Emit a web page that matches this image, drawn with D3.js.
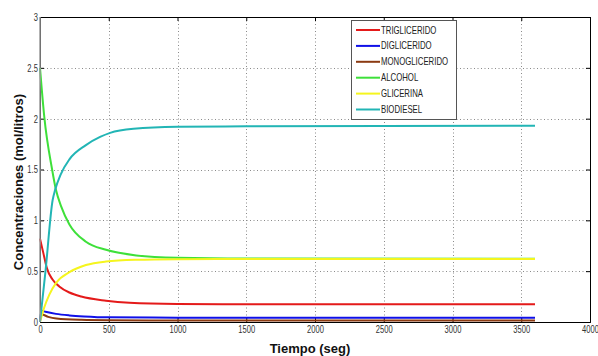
<!DOCTYPE html>
<html>
<head>
<meta charset="utf-8">
<script src="https://cdn.jsdelivr.net/npm/d3@7"></script>
<style>
html,body{margin:0;padding:0;background:#fff;}
svg{display:block;}
</style>
</head>
<body>
<svg id="chart" width="598" height="356"></svg>
<script>
// ---- data ----
const xTicks = [0, 500, 1000, 1500, 2000, 2500, 3000, 3500, 4000];
const yTicks = [0, 0.5, 1, 1.5, 2, 2.5, 3];
const yTickLabels = ["0", "0.5", "1", "1.5", "2", "2.5", "3"];
const seriesNames = ["TRIGLICERIDO", "DIGLICERIDO", "MONOGLICERIDO", "ALCOHOL", "GLICERINA", "BIODIESEL"];
const seriesColors = ["#e41a1a", "#1010e8", "#8b3a12", "#3ee03a", "#f5f51e", "#22b5b5"];

const triglicerido = [[0,0.82],[24,0.68],[50,0.53],[90,0.42],[140,0.35],[214,0.29],[300,0.25],[480,0.21],[650,0.19],[1000,0.178],[1500,0.175],[3600,0.175]];
const diglicerido = [[0,0.02],[12,0.11],[40,0.1],[116,0.08],[214,0.065],[320,0.055],[500,0.046],[1000,0.043],[3600,0.042]];
const monoglicerido = [[0,0.01],[12,0.075],[60,0.05],[120,0.034],[300,0.021],[500,0.017],[1000,0.015],[3600,0.015]];
const alcohol = [[0,2.5],[31,2.02],[88,1.5],[116,1.30],[153,1.14],[214,0.96],[334,0.79],[480,0.71],[700,0.655],[1000,0.632],[1500,0.625],[3600,0.622]];
const glicerina = [[0,0],[30,0.14],[68,0.27],[120,0.39],[214,0.49],[334,0.56],[480,0.595],[700,0.612],[1000,0.618],[1500,0.62],[3600,0.62]];
const biodiesel = [[0,0],[40,0.5],[92,1.2],[110,1.3],[150,1.45],[214,1.6],[334,1.74],[437,1.82],[510,1.86],[680,1.9],[1000,1.92],[1500,1.925],[3600,1.93]];
const allSeries = [triglicerido, diglicerido, monoglicerido, alcohol, glicerina, biodiesel];

// ---- layout ----
const svg = d3.select("#chart");
const L = 40, R = 590, T = 17, B = 322;
const x = d3.scaleLinear().domain([0, 4000]).range([L, R]);
const y = d3.scaleLinear().domain([0, 3]).range([B, T]);
const tickFont = "'Liberation Sans',Arial,sans-serif";

// grid
const grid = svg.append("g").attr("stroke", "#8a8a8a").attr("stroke-width", 1).attr("stroke-dasharray", "1,2.5");
grid.selectAll("line.gx").data(xTicks.slice(1, -1)).enter().append("line")
  .attr("x1", d => Math.round(x(d)) + 0.5).attr("x2", d => Math.round(x(d)) + 0.5)
  .attr("y1", T).attr("y2", B);
grid.selectAll("line.gy").data(yTicks.slice(1, -1)).enter().append("line")
  .attr("y1", d => Math.round(y(d)) + 0.5).attr("y2", d => Math.round(y(d)) + 0.5)
  .attr("x1", L).attr("x2", R);

// axes
svg.append("g").attr("transform", `translate(0,${B})`)
  .call(d3.axisBottom(x).tickValues(xTicks).tickFormat(d3.format("d")).tickSize(-4).tickPadding(4));
svg.append("g").attr("transform", `translate(${L},0)`)
  .call(d3.axisLeft(y).tickValues(yTicks).tickFormat((d, i) => yTickLabels[i]).tickSize(-4).tickPadding(3));
svg.append("g").attr("transform", `translate(0,${T})`)
  .call(d3.axisTop(x).tickValues(xTicks).tickFormat("").tickSize(-4));
svg.append("g").attr("transform", `translate(${R},0)`)
  .call(d3.axisRight(y).tickValues(yTicks).tickFormat("").tickSize(-4));
svg.selectAll(".domain").attr("stroke", "#000").attr("stroke-width", 1);
svg.selectAll(".tick line").attr("stroke", "#000");
svg.selectAll(".tick text").attr("font-family", tickFont).attr("font-size", 10.5).attr("fill", "#333")
  .attr("transform", "scale(0.72,1)");

// lines
const line = d3.line().x(d => x(d[0])).y(d => y(d[1])).curve(d3.curveMonotoneX);
svg.append("g").selectAll("path").data(allSeries).enter().append("path")
  .attr("d", line).attr("fill", "none")
  .attr("stroke", (d, i) => seriesColors[i]).attr("stroke-width", 2);

// left axis grey overlay
svg.append("line").attr("x1", L).attr("x2", L).attr("y1", T).attr("y2", B)
  .attr("stroke", "#999").attr("stroke-width", 1.5);

// legend
const lg = svg.append("g");
lg.append("rect").attr("x", 351.5).attr("y", 20.5).attr("width", 105).attr("height", 99)
  .attr("fill", "#fff").attr("stroke", "#555").attr("stroke-width", 1);
const lgY = d3.scalePoint().domain(seriesNames).range([30, 109.5]);
seriesNames.forEach((n, i) => {
  lg.append("line").attr("x1", 356).attr("x2", 380).attr("y1", lgY(n)).attr("y2", lgY(n))
    .attr("stroke", seriesColors[i]).attr("stroke-width", 2);
  lg.append("text").attr("transform", `translate(381,${lgY(n) + 3.5}) scale(0.78,1)`).text(n)
    .attr("font-family", tickFont).attr("font-size", 10).attr("fill", "#222");
});

// axis labels
svg.append("text").attr("x", 310).attr("y", 353).attr("text-anchor", "middle")
  .attr("font-family", "'Liberation Sans',Arial,sans-serif").attr("font-weight", "bold").attr("font-size", 13)
  .attr("fill", "#111").text("Tiempo (seg)");
svg.append("text").attr("transform", "translate(23,182) rotate(-90)").attr("text-anchor", "middle")
  .attr("font-family", "'Liberation Sans',Arial,sans-serif").attr("font-weight", "bold").attr("font-size", 13)
  .attr("fill", "#111").text("Concentraciones (mol/litros)");
</script>
</body>
</html>
